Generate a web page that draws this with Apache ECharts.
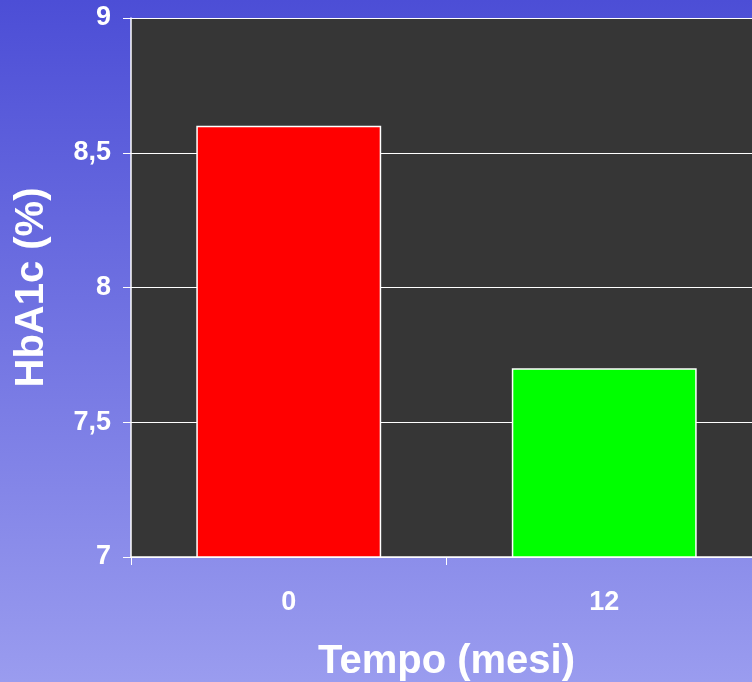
<!DOCTYPE html>
<html>
<head>
<meta charset="utf-8">
<script src="https://cdn.jsdelivr.net/npm/echarts@6/dist/echarts.min.js"></script>
<style>html,body{margin:0;padding:0;}#c{width:752px;height:682px;}</style>
</head>
<body>
<div id="c"></div>
<script>
var categories = ['0', '12'];
var values = [8.6, 7.7];
var barColors = ['#ff0000', '#00ff00'];
var yTickLabels = {'7': '7', '7.5': '7,5', '8': '8', '8.5': '8,5', '9': '9'};
var xTitle = 'Tempo (mesi)';
var yTitle = 'HbA1c (%)';

var chart = echarts.init(document.getElementById('c'));
var font = 'Liberation Sans, Arial, sans-serif';
chart.setOption({
  backgroundColor: {
    type: 'linear', x: 0, y: 0, x2: 0, y2: 1,
    colorStops: [{offset: 0, color: '#4c4ed6'}, {offset: 1, color: '#9a9cef'}]
  },
  animation: false,
  grid: {
    left: 131, right: -10, top: 18, bottom: 125,
    containLabel: false,
    outerBoundsMode: 'none',
    show: true, backgroundColor: '#363636', borderWidth: 0
  },
  xAxis: {
    type: 'category',
    data: categories,
    name: xTitle,
    nameLocation: 'middle',
    nameGap: 85,
    nameTextStyle: {color: '#ffffff', fontSize: 40, fontWeight: 'bold', fontFamily: font},
    axisLine: {lineStyle: {color: '#ffffff', width: 1.5}},
    axisTick: {show: true, length: 8, lineStyle: {color: '#ffffff'}},
    axisLabel: {color: '#ffffff', fontSize: 27, fontWeight: 'bold', fontFamily: font, margin: 32}
  },
  yAxis: {
    type: 'value',
    min: 7, max: 9, interval: 0.5,
    name: yTitle,
    nameLocation: 'middle',
    nameGap: 79,
    nameRotate: 90,
    nameTextStyle: {color: '#ffffff', fontSize: 40, fontWeight: 'bold', fontFamily: font},
    axisLine: {show: true, lineStyle: {color: '#ffffff', width: 1.5}},
    axisTick: {show: true, length: 8, lineStyle: {color: '#ffffff'}},
    splitLine: {show: true, lineStyle: {color: '#ffffff', width: 1}},
    axisLabel: {
      color: '#ffffff', fontSize: 27, fontWeight: 'bold', fontFamily: font, margin: 20,
      formatter: function (v) { return yTickLabels[String(v)] || String(v).replace('.', ','); }
    }
  },
  series: [{
    type: 'bar',
    barWidth: '58.6%',
    data: values.map(function (v, i) {
      return {value: v, itemStyle: {color: barColors[i], borderColor: '#ffffff', borderWidth: 1.5}};
    })
  }]
});
</script>
</body>
</html>
